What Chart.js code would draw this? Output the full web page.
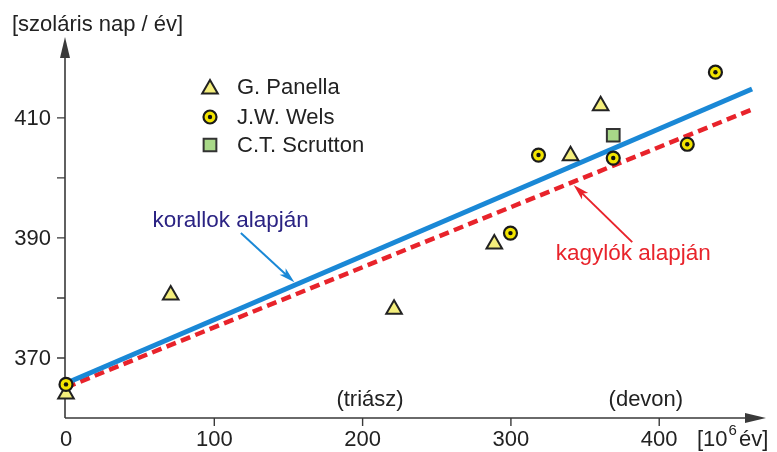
<html>
  <head>
    <style>
      body { margin: 0; background: #fff; }
      canvas { display: block; }
    </style>
  </head>
  <body>
    <canvas id="myChart" width="777" height="452"></canvas>

    <script src="https://cdn.jsdelivr.net/npm/chart.js"></script>

    <script>
      "use strict";

      // values: x = 10^6 years ago, y = solar days / year
      const panellaX = [0, 70.6, 221.2, 288.8, 340.2, 360.5];
      const panellaY = [364.0, 380.5, 378.1, 389.0, 403.7, 412.0];
      const welsX = [0, 299.7, 318.6, 369.0, 418.9, 437.9];
      const welsY = [365.6, 390.8, 403.8, 403.3, 405.6, 417.6];
      const scruttonX = [369.0];
      const scruttonY = [407.1];
      const coralFitX = [0, 462.6];
      const coralFitY = [365.8, 414.8];
      const shellFitX = [0, 462.6];
      const shellFitY = [365.1, 411.4];

      const xTicks = [0, 100, 200, 300, 400];
      const yTickLabels = [370, 390, 410];
      const yMinorTicks = [380, 400];
      const seriesNames = ['G. Panella', 'J.W. Wels', 'C.T. Scrutton'];

      const FONT = '"Liberation Sans", Arial, Helvetica, sans-serif';
      const AXIS = '#3a3a3a';

      function pts(xs, ys) { return xs.map((x, i) => ({ x: x, y: ys[i] })); }

      const triStyle = { pointStyle: 'triangle', radius: 9, bg: '#f4ee7c', border: '#222', bw: 2 };
      const circStyle = { pointStyle: 'circle', radius: 6.5, bg: '#f2e400', border: '#1a1a1a', bw: 2.2 };
      const rectStyle = { pointStyle: 'rect', radius: 9, bg: '#a8d888', border: '#333', bw: 2 };

      function marker(ds, st) {
          return Object.assign(ds, {
              type: 'scatter',
              pointStyle: st.pointStyle,
              pointRadius: st.radius,
              pointHoverRadius: st.radius,
              backgroundColor: st.bg,
              borderColor: st.border,
              borderWidth: st.bw,
              clip: false
          });
      }

      function arrow(ctx, x1, y1, x2, y2, color, w, len, half) {
          const a = Math.atan2(y2 - y1, x2 - x1);
          ctx.save();
          ctx.strokeStyle = color;
          ctx.fillStyle = color;
          ctx.lineWidth = w;
          ctx.beginPath();
          ctx.moveTo(x1, y1);
          ctx.lineTo(x2 - Math.cos(a) * len * 0.7, y2 - Math.sin(a) * len * 0.7);
          ctx.stroke();
          ctx.beginPath();
          ctx.moveTo(x2, y2);
          ctx.lineTo(x2 - Math.cos(a) * len - Math.sin(a) * half, y2 - Math.sin(a) * len + Math.cos(a) * half);
          ctx.lineTo(x2 - Math.cos(a) * len * 0.75, y2 - Math.sin(a) * len * 0.75);
          ctx.lineTo(x2 - Math.cos(a) * len + Math.sin(a) * half, y2 - Math.sin(a) * len - Math.cos(a) * half);
          ctx.closePath();
          ctx.fill();
          ctx.restore();
      }

      const deco = {
          id: 'deco',
          beforeDatasetsDraw(chart) {
              const ctx = chart.ctx;
              const xs = chart.scales.x, ys = chart.scales.y;
              const a = chart.chartArea;
              const x0 = xs.getPixelForValue(0) - 1;
              const yb = a.bottom;
              ctx.save();
              ctx.strokeStyle = AXIS;
              ctx.fillStyle = AXIS;
              ctx.lineWidth = 1.6;
              // axes
              ctx.beginPath();
              ctx.moveTo(x0, yb);
              ctx.lineTo(x0, a.top + 14);
              ctx.moveTo(x0, yb);
              ctx.lineTo(a.right - 14, yb);
              ctx.stroke();
              // arrow heads
              ctx.beginPath();
              ctx.moveTo(x0, a.top - 1);
              ctx.lineTo(x0 - 5, a.top + 20);
              ctx.lineTo(x0 + 5, a.top + 20);
              ctx.closePath();
              ctx.fill();
              ctx.beginPath();
              ctx.moveTo(a.right, yb);
              ctx.lineTo(a.right - 21, yb - 5);
              ctx.lineTo(a.right - 21, yb + 5);
              ctx.closePath();
              ctx.fill();
              // y ticks
              ctx.lineWidth = 1.4;
              ctx.beginPath();
              yTickLabels.concat(yMinorTicks).forEach(v => {
                  const p = ys.getPixelForValue(v);
                  ctx.moveTo(x0 - 8, p);
                  ctx.lineTo(x0, p);
              });
              xTicks.forEach(v => {
                  if (v === 0) return;
                  const p = xs.getPixelForValue(v);
                  ctx.moveTo(p, yb);
                  ctx.lineTo(p, yb + 8);
              });
              ctx.stroke();
              // tick labels
              ctx.fillStyle = '#222';
              ctx.font = '22px ' + FONT;
              ctx.textBaseline = 'middle';
              ctx.textAlign = 'right';
              yTickLabels.forEach(v => ctx.fillText(String(v), x0 - 14, ys.getPixelForValue(v) + 1));
              ctx.textAlign = 'center';
              xTicks.forEach(v => ctx.fillText(String(v), xs.getPixelForValue(v), yb + 22));
              // axis titles
              ctx.textAlign = 'left';
              ctx.fillText('[szoláris nap / év]', 12, 25);
              ctx.fillText('[10', 697, yb + 22);
              const w10 = ctx.measureText('[10').width;
              ctx.font = '15px ' + FONT;
              ctx.fillText('6', 697 + w10 + 1, yb + 13);
              const w6 = ctx.measureText('6').width;
              ctx.font = '22px ' + FONT;
              ctx.fillText('év]', 697 + w10 + w6 + 3, yb + 22);
              // era labels
              ctx.textAlign = 'center';
              ctx.fillText('(triász)', xs.getPixelForValue(205), ys.getPixelForValue(363));
              ctx.fillText('(devon)', xs.getPixelForValue(391), ys.getPixelForValue(363));
              ctx.restore();
          },
          afterDatasetsDraw(chart) {
              const ctx = chart.ctx;
              const xs = chart.scales.x, ys = chart.scales.y;
              const px = v => xs.getPixelForValue(v), py = v => ys.getPixelForValue(v);
              ctx.save();
              // fit line labels
              ctx.font = '22.5px ' + FONT;
              ctx.textBaseline = 'alphabetic';
              ctx.textAlign = 'left';
              ctx.fillStyle = '#2b2383';
              ctx.fillText('korallok alapján', px(58.3), py(391.8));
              ctx.fillStyle = '#e8232b';
              ctx.fillText('kagylók alapján', px(330.2), py(386.3));
              arrow(ctx, px(117.9), py(390.8), px(154), py(382.6), '#1a88d6', 2, 16, 4.5);
              arrow(ctx, px(381.8), py(389.3), px(342.3), py(398.8), '#e8232b', 2, 16, 4.5);

              // legend
              const rows = [[triStyle, 89], [circStyle, 117], [rectStyle, 145]];
              const hasHelpers = Chart.helpers && Chart.helpers.drawPoint;
              rows.forEach((r, i) => {
                  const st = r[0];
                  ctx.fillStyle = st.bg;
                  ctx.strokeStyle = st.border;
                  ctx.lineWidth = st.bw;
                  if (hasHelpers) {
                      Chart.helpers.drawPoint(ctx, { pointStyle: st.pointStyle, radius: st.radius, rotation: 0, borderWidth: st.bw }, 210, r[1]);
                  }
                  if (i === 1) {
                      ctx.fillStyle = '#111';
                      ctx.beginPath();
                      ctx.arc(210, r[1], 2.2, 0, Math.PI * 2);
                      ctx.fill();
                  }
                  ctx.fillStyle = '#222';
                  ctx.font = '22px ' + FONT;
                  ctx.textBaseline = 'middle';
                  ctx.fillText(seriesNames[i], 237, (i === 0 ? 87 : r[1]) + 1);
              });
              ctx.restore();
          }
      };

      const ctx = document.getElementById('myChart').getContext('2d');
      const chart = new Chart(ctx, {
          type: 'scatter',
          data: {
              datasets: [
                  {
                      label: 'J.W. Wels (pont)',
                      data: pts(welsX, welsY),
                      pointStyle: 'circle',
                      pointRadius: 2.2,
                      pointHoverRadius: 2.2,
                      backgroundColor: '#111',
                      borderWidth: 0,
                      clip: false
                  },
                  marker({ label: seriesNames[1], data: pts(welsX, welsY) }, circStyle),
                  marker({ label: seriesNames[0], data: pts(panellaX, panellaY) }, triStyle),
                  marker({ label: seriesNames[2], data: pts(scruttonX, scruttonY) }, rectStyle),
                  {
                      type: 'line',
                      label: 'korallok alapján',
                      data: pts(coralFitX, coralFitY),
                      borderColor: '#1a88d6',
                      borderWidth: 5,
                      pointRadius: 0,
                      fill: false,
                      clip: false
                  },
                  {
                      type: 'line',
                      label: 'kagylók alapján',
                      data: pts(shellFitX, shellFitY),
                      borderColor: '#e8232b',
                      borderWidth: 4.5,
                      borderDash: [10, 5.5],
                      pointRadius: 0,
                      fill: false,
                      clip: false
                  }
              ]
          },
          options: {
              responsive: false,
              animation: false,
              devicePixelRatio: 1,
              layout: { padding: { left: 66, right: 6, top: 38, bottom: 34 } },
              scales: {
                  x: { type: 'linear', min: 0, max: 472, display: false },
                  y: { type: 'linear', min: 360, max: 423.3, display: false }
              },
              plugins: {
                  legend: { display: false },
                  tooltip: { enabled: false }
              }
          },
          plugins: [deco]
      });
    </script>
  </body>
</html>
